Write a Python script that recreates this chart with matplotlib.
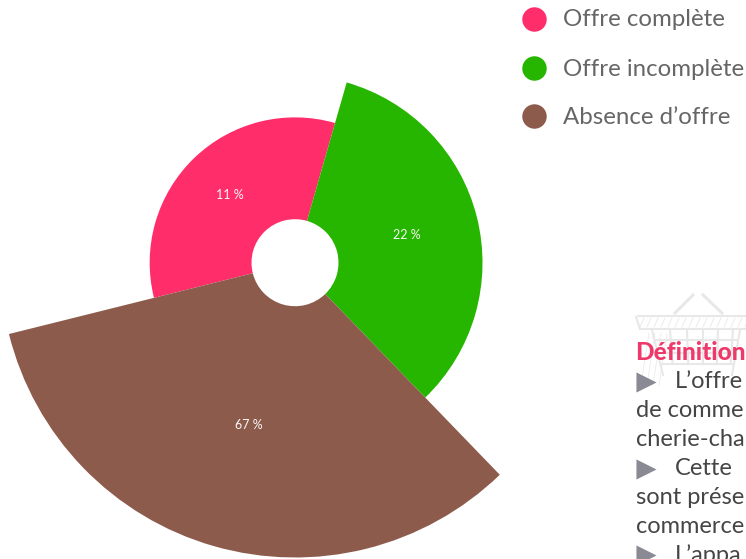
import numpy as np
from matplotlib import pyplot as plt
from matplotlib.patches import Wedge

labels = ["Offre complète", "Offre incomplète", "Absence d’offre"]
values = [11, 22, 67]
colors = ["#ff2e6a", "#26b600", "#8d5b4c"]
note_title = "Définition"
note_lines = ["L’offre", "de comme", "cherie-cha", "Cette", "sont prése", "commerce", "L’appa"]
note_arrows = [True, False, False, True, False, False, True]

W, H = 746, 559
CX, CY = 295, 262.7
R_INNER = 43.5
START = 256
TEXT = "#666666"

plt.rcParams["font.family"] = ["Lato", "DejaVu Sans"]
fig = plt.figure(figsize=(W / 100, H / 100), dpi=100)

# one axes in pixels, y going down so wedge angles run clockwise
ax = fig.add_axes([0, 0, 1, 1])
ax.set_xlim(0, W)
ax.set_ylim(H, 0)
ax.axis("off")

# rose chart, slices have equal angles and radius follows sqrt(value)
step = 360 / len(values)
for i, (val, col) in enumerate(zip(values, colors)):
    a0 = START + i * step - 90
    r = R_INNER + 30.7 * np.sqrt(val)
    ax.add_patch(Wedge((CX, CY), r, a0, a0 + step, width=r - R_INNER, color=col, linewidth=0))
    mid = np.radians(a0 + step / 2)
    rm = (R_INNER + r) / 2
    ax.text(CX + rm * np.cos(mid), CY + rm * np.sin(mid), f"{val} %", color="white", fontsize=9,
            ha="center", va="center", alpha=0.95)

for y, lab, col in zip([19, 68, 116], labels, colors):
    ax.scatter([533.7], [y], s=310, color=col, linewidths=0)
    ax.text(563, y + 1, lab, fontsize=17.3, color=TEXT, va="center", ha="left")

# basket behind the note
BASKET = "#e8e8e8"
ax.plot([675, 693], [313, 295], color=BASKET, lw=2.2)
ax.plot([703, 722], [295, 313], color=BASKET, lw=2.2)
ax.plot([638, 746], [316, 316], color=BASKET, lw=1.5)
ax.plot([640, 746], [329, 329], color=BASKET, lw=1.5)
ax.plot([636, 640], [317, 329], color=BASKET, lw=1.5)
ax.plot([652, 663], [330, 375], color=BASKET, lw=1.5)
ax.plot([740, 732], [330, 375], color=BASKET, lw=1.5)
ax.plot([655, 737], [340, 340], color=BASKET, lw=1.5)
ax.plot([658, 735], [353, 353], color=BASKET, lw=1.5)
ax.plot([661, 734], [364, 364], color=BASKET, lw=1.5)
for x in [670, 687, 703, 718, 733]:
    ax.plot([x, x + (703 - x) * 0.08], [330, 364], color=BASKET, lw=1.5)
for x in np.arange(640, 746, 7):
    ax.plot([x, x + 4], [327, 318], color=BASKET, lw=0.6)
for x in np.arange(641, 664, 6):
    ax.plot([x, x + 8], [385, 333], color=BASKET, lw=0.5)

ax.text(635, 352, note_title, fontsize=17.6, fontweight="black", color="#ee3a6a", va="center", ha="left")
for y, line, arrow in zip(np.arange(382, 560, 28.9), note_lines, note_arrows):
    if arrow:
        ax.scatter([646], [y], marker=">", s=210, color="#8a8a94", linewidths=0, clip_on=False, zorder=3)
    ax.text(675 if arrow else 636, y, line, fontsize=17, color="#454545", va="center", ha="left")

fig.savefig("out.png", dpi=100)
